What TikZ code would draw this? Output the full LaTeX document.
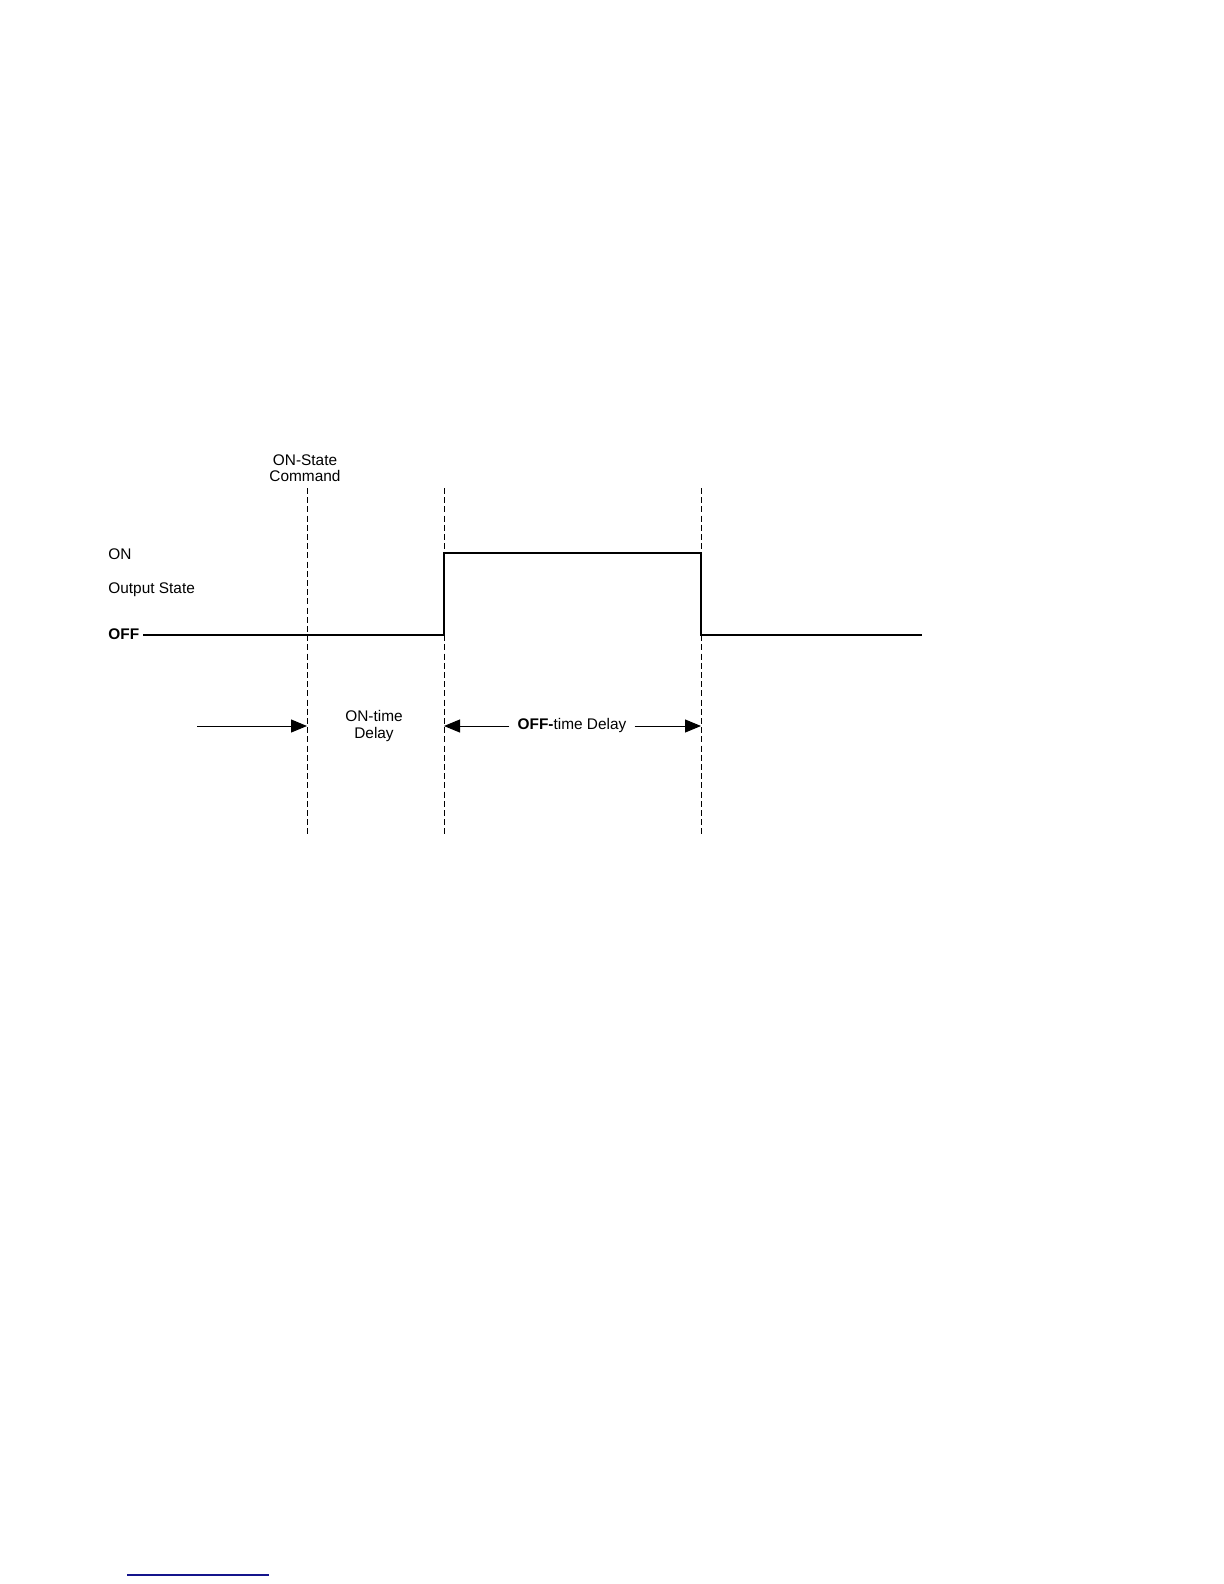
\documentclass[tikz,border=0pt]{standalone}
\usepackage{fontspec}
\setmainfont{Liberation Sans}
\usetikzlibrary{arrows.meta}
\definecolor{linkblue}{RGB}{20,20,140}
\tikzset{
  lbl/.style={font=\fontsize{7.7}{8.1}\selectfont, inner sep=0pt},
  guide/.style={line width=0.5pt, dash pattern=on 3pt off 1.6pt},
  sig/.style={line width=0.55pt},
  dim/.style={line width=0.5pt, -{Triangle[length=8pt,width=6.5pt]}},
}
\begin{document}
\begin{tikzpicture}[x=0.5pt,y=-0.5pt]
\useasboundingbox (0,0) rectangle (1224,1584);
% guide coordinates
\coordinate (g1t) at (307,488); \coordinate (g1b) at (307,834);
\coordinate (g2t) at (444,488); \coordinate (g2b) at (444,834);
\coordinate (g3t) at (701,488); \coordinate (g3b) at (701,834);
\draw[guide] (g1t) -- (g1b);
\draw[guide] (g2t) -- (g2b);
\draw[guide] (g3t) -- (g3b);
% labels
\node[lbl, align=center] (cmd) at (305,468) {ON-State\\Command};
\node[lbl, anchor=west] (on) at (108,554) {ON};
\node[lbl, anchor=west] (out) at (108,590) {Output State};
\node[lbl, anchor=west] (off) at (108,634) {\textbf{OFF}};
% signal
\coordinate (s0) at (143,635);
\coordinate (s1) at (444,635);
\coordinate (s2) at (444,553);
\coordinate (s3) at (701,553);
\coordinate (s4) at (701,635);
\coordinate (s5) at (922,635);
\draw[sig] (s0) -- (s1) -- (s2) -- (s3) -- (s4) -- (s5);
% delays
\node[lbl, align=center] (ondel) at (374,726) {ON-time\\Delay};
\node[lbl, inner xsep=4pt] (offdel) at (572,726) {\textbf{OFF-}time Delay};
\coordinate (a0) at (197,726);
\coordinate (a1) at (307,726);
\coordinate (a2) at (444,726);
\coordinate (a3) at (701,726);
\draw[dim] (a0) -- (a1);
\draw[dim] (offdel.west) -- (a2);
\draw[dim] (offdel.east) -- (a3);
% footer link underline
\coordinate (u0) at (127,1575);
\coordinate (u1) at (269,1575);
\draw[linkblue, line width=0.6pt] (u0) -- (u1);
\end{tikzpicture}
\end{document}
